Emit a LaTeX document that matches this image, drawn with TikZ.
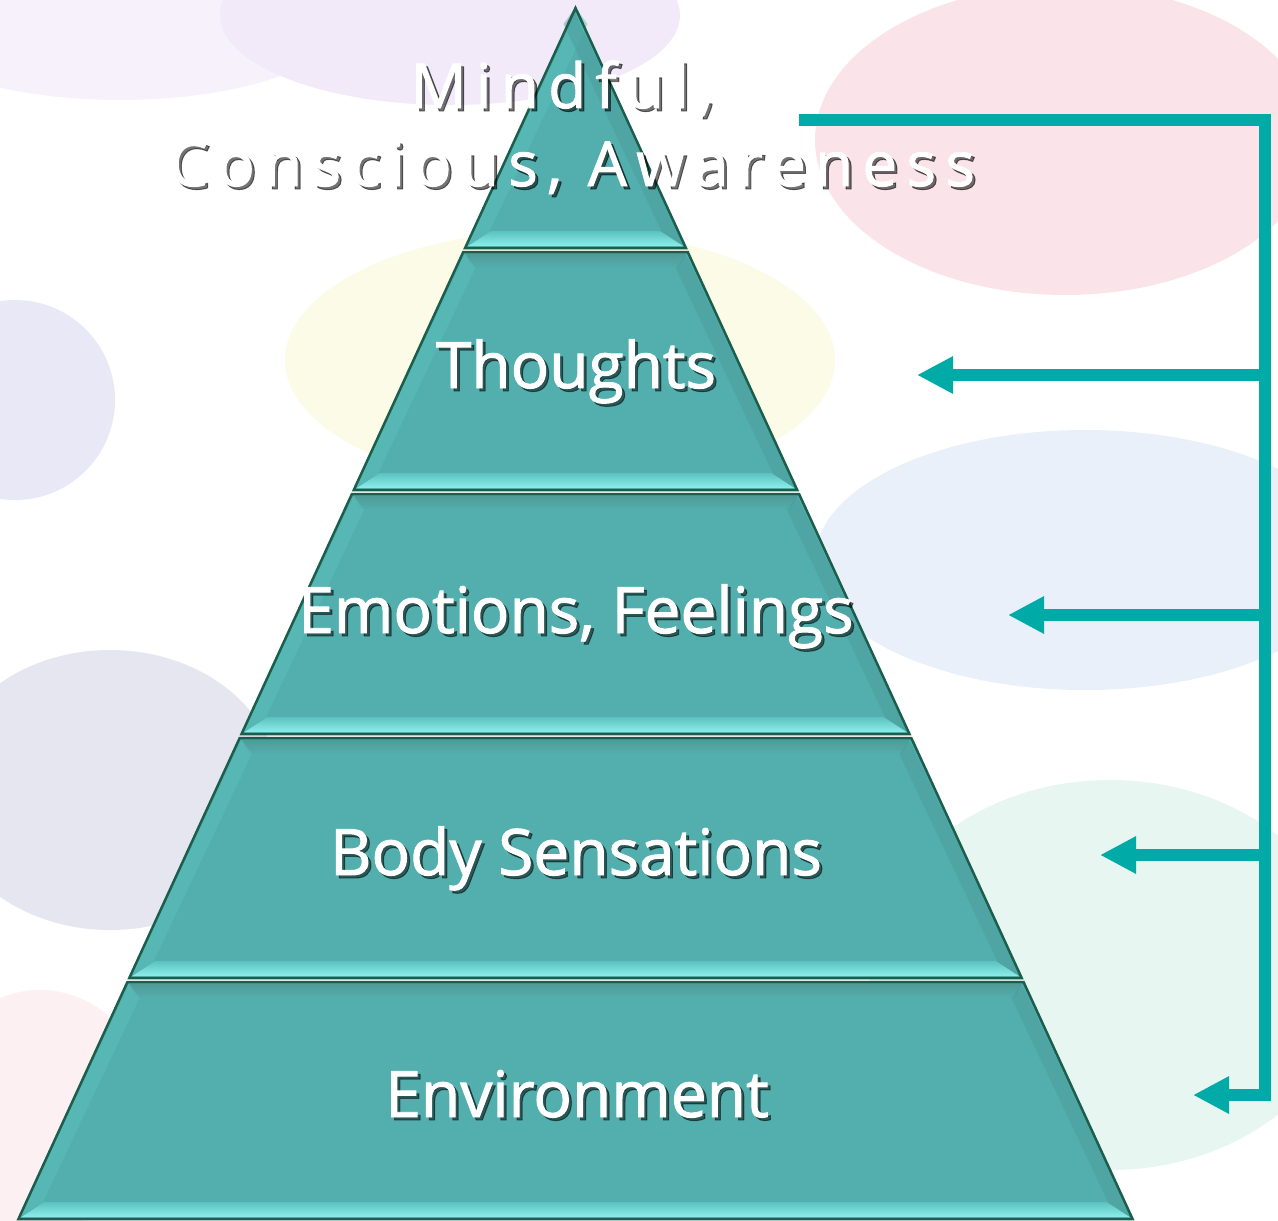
\documentclass[tikz,border=0pt]{standalone}
\usepackage{fontspec}
\setmainfont{Open Sans}
\usetikzlibrary{arrows.meta,calc}
\definecolor{teal1}{HTML}{00ABA7}
\definecolor{pyfill}{HTML}{52AFAE}
\definecolor{pyedge}{HTML}{1C5E4C}
\definecolor{bevlo}{HTML}{8CEEEA}
\definecolor{bevhi}{HTML}{5CC2BF}
\definecolor{bevtop}{HTML}{509B98}
\definecolor{bevright}{HTML}{489694}
\definecolor{bgA}{RGB}{242,233,249}
\definecolor{bgB}{RGB}{246,241,251}
\definecolor{bgC}{RGB}{250,228,233}
\definecolor{bgD}{RGB}{232,232,247}
\definecolor{bgE}{RGB}{251,251,232}
\definecolor{bgF}{RGB}{233,240,249}
\definecolor{bgG}{RGB}{230,230,241}
\definecolor{bgH}{RGB}{232,246,241}
\definecolor{bgI}{RGB}{252,240,243}
\tikzset{
  lbl/.style={text=white,anchor=base,inner sep=0pt,font=\fontsize{64}{76}\selectfont\addfontfeatures{FakeBold=1.5}},
  lblsh/.style={lbl,text=black,opacity=0.5},
  toplbl/.style={text=white,anchor=base,inner sep=0pt,font=\fontsize{62}{76}\selectfont\addfontfeatures{LetterSpace=15,FakeBold=1.5}},
  toplblsh/.style={toplbl,text=black,opacity=0.55},
  layer/.style={draw=pyedge,line width=2.5pt,line join=miter},
  conn/.style={draw=teal1,line width=11.5pt},
  arr/.style={conn,-{Triangle[width=35pt,length=36pt]}},
  blob/.style={draw=none}
}
\newcommand{\shlabel}[4]{% name, x, y, text
  \node[lblsh] at (#2+3,#3+3) {#4};
  \node[lbl] (#1) at (#2,#3) {#4};
}
\begin{document}
\begin{tikzpicture}[x=1pt,y=-1pt]
\useasboundingbox (0,0) rectangle (1278,1221);
\fill[white] (0,0) rectangle (1278,1221);
% background blobs
\begin{scope}
\clip (0,0) rectangle (1278,1221);
\fill[blob,fill=bgB] (120,15) ellipse [x radius=230,y radius=85];
\fill[blob,fill=bgA] (450,15) ellipse [x radius=230,y radius=90];
\fill[blob,fill=bgC] (1065,140) ellipse [x radius=250,y radius=155];
\fill[blob,fill=bgD] (15,400) ellipse [x radius=100,y radius=100];
\fill[blob,fill=bgE] (560,360) ellipse [x radius=275,y radius=130];
\fill[blob,fill=bgF] (1085,560) ellipse [x radius=270,y radius=130];
\fill[blob,fill=bgG] (110,790) ellipse [x radius=170,y radius=140];
\fill[blob,fill=bgH] (1110,975) ellipse [x radius=240,y radius=195];
\fill[blob,fill=bgI] (40,1110) ellipse [x radius=110,y radius=120];
\end{scope}
% pyramid layers
\foreach \t/\b/\nm in {8/248/L1,252/490/L2,494/734/L3,738/978/L4,982/1219/L5}{
  \pgfmathsetmacro{\xlt}{575.5-0.46*(\t-8)}
  \pgfmathsetmacro{\xrt}{575.5+0.46*(\t-8)}
  \pgfmathsetmacro{\xlb}{575.5-0.46*(\b-8)}
  \pgfmathsetmacro{\xrb}{575.5+0.46*(\b-8)}
  \coordinate (\nm-tl) at (\xlt,\t);
  \coordinate (\nm-tr) at (\xrt,\t);
  \coordinate (\nm-bl) at (\xlb,\b);
  \coordinate (\nm-br) at (\xrb,\b);
  \fill[pyfill] (\nm-tl) -- (\nm-tr) -- (\nm-br) -- (\nm-bl) -- cycle;
  \shade[top color=bevtop,bottom color=pyfill]
    ($(\nm-tl)+(2,2)$) -- ($(\nm-tr)+(-2,2)$) -- ($(\nm-tr)+(-9,16)$) -- ($(\nm-tl)+(9,16)$) -- cycle;
  \fill[bevhi,opacity=0.45] ($(\nm-tl)+(2,2)$) -- ($(\nm-tl)+(12,16)$) -- ($(\nm-bl)+(24,-16)$) -- ($(\nm-bl)+(2,-2)$) -- cycle;
  \fill[bevright,opacity=0.4] ($(\nm-tr)+(-2,2)$) -- ($(\nm-tr)+(-12,16)$) -- ($(\nm-br)+(-24,-16)$) -- ($(\nm-br)+(-2,-2)$) -- cycle;
  \shade[top color=bevhi,bottom color=bevlo]
    ($(\nm-bl)+(3,-2)$) -- ($(\nm-bl)+(26,-17)$) -- ($(\nm-br)+(-26,-17)$) -- ($(\nm-br)+(-3,-2)$) -- cycle;
  \draw[layer] (\nm-tl) -- (\nm-tr) -- (\nm-br) -- (\nm-bl) -- cycle;
}
% labels
\shlabel{thoughts}{576}{388}{Thoughts}
\shlabel{emotions}{576}{633}{Emotions, Feelings}
\shlabel{body}{576}{875}{Body Sensations}
\shlabel{env}{577}{1117}{Environment}
\node[toplblsh] at (565,111) {Mindful,};
\node[toplbl] (mind1) at (562,108) {Mindful,};
\node[toplblsh] at (575,189) {Conscious, Awareness};
\node[toplbl] (mind2) at (572,186) {Conscious, Awareness};
% bracket
\coordinate (bstart) at (799,120);
\coordinate (bcorner) at (1265,120);
\coordinate (bbot) at (1265,1095);
\coordinate (j1) at (1265,375);
\coordinate (j2) at (1265,615);
\coordinate (j3) at (1265,855);
\coordinate (t1) at (917,375);
\coordinate (t2) at (1008,615);
\coordinate (t3) at (1100,855);
\coordinate (t4) at (1193,1095);
\draw[conn,line join=miter] (bstart) -- (bcorner) -- ($(bbot)+(0,5.75)$);
\draw[arr] ($(j1)+(5.75,0)$) -- (t1);
\draw[arr] ($(j2)+(5.75,0)$) -- (t2);
\draw[arr] ($(j3)+(5.75,0)$) -- (t3);
\draw[arr] ($(bbot)+(5.75,0)$) -- (t4);
\end{tikzpicture}
\end{document}
